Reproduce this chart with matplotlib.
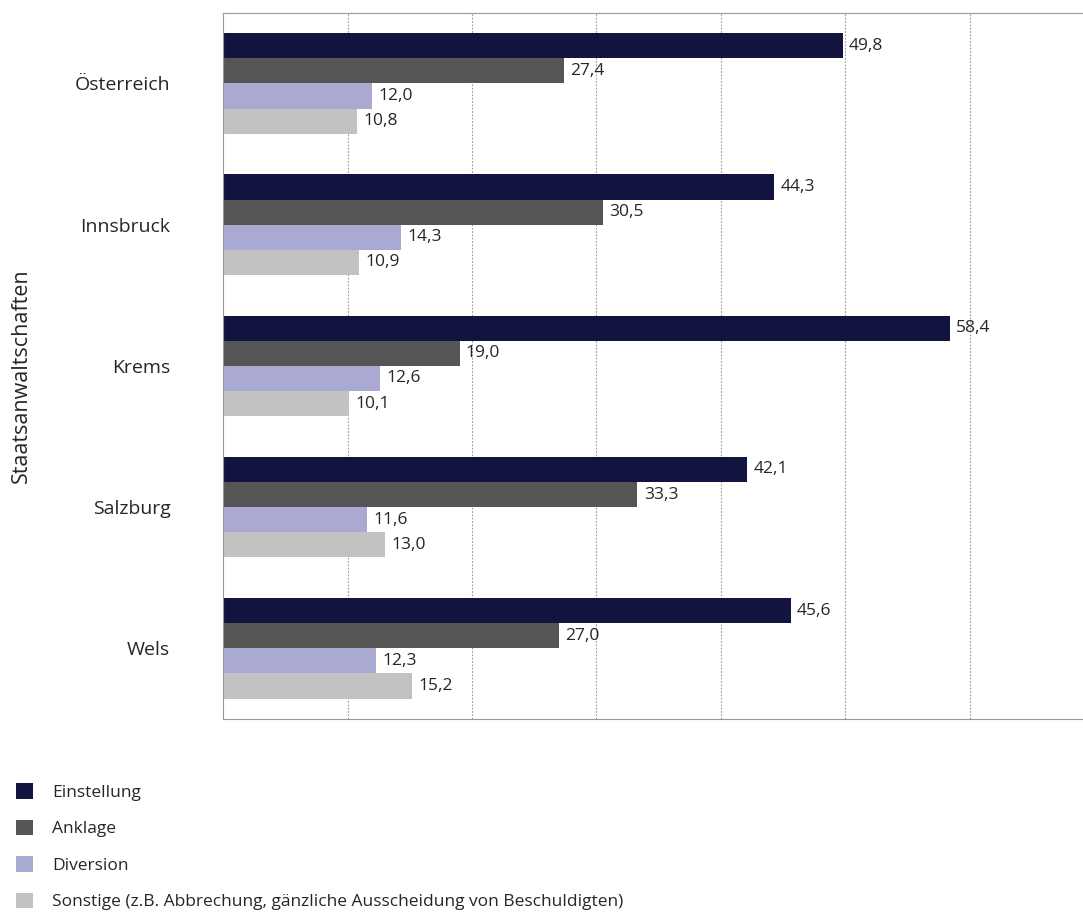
import matplotlib.pyplot as plt
import numpy as np

plt.rcParams['font.family'] = ['Open Sans', 'DejaVu Sans']

categories = ["Österreich", "Innsbruck", "Krems", "Salzburg", "Wels"]
series = ["Einstellung", "Anklage", "Diversion",
          "Sonstige (z.B. Abbrechung, gänzliche Ausscheidung von Beschuldigten)"]
einstellung = [49.8, 44.3, 58.4, 42.1, 45.6]
anklage = [27.4, 30.5, 19.0, 33.3, 27.0]
diversion = [12.0, 14.3, 12.6, 11.6, 12.3]
sonstige = [10.8, 10.9, 10.1, 13.0, 15.2]
colors = ["#12143f", "#555555", "#a9a9d2", "#c2c2c2"]
txt = "#262626"

fig = plt.figure(figsize=(10.83, 9.17), dpi=100)
ax = fig.add_axes((0.206, 0.216, 0.794, 0.770))

y = np.arange(len(categories))
h = 0.178
values = [einstellung, anklage, diversion, sonstige]
for i, (vals, col, name) in enumerate(zip(values, colors, series)):
    pos = y - 1.5 * h + i * h
    ax.barh(pos, vals, height=h, color=col, label=name, zorder=2)
    for p, v in zip(pos, vals):
        ax.text(v + 0.5, p, f"{v:.1f}".replace(".", ","), va="center",
                ha="left", fontsize=12.5, color=txt)

ax.set_ylim(len(categories) - 0.5, -0.5)
ax.set_xlim(0, 69.1)
ax.set_yticks(y)
ax.set_yticklabels(categories, fontsize=14, color=txt)
ax.tick_params(axis="y", length=0, pad=38)
ax.set_xticks(np.arange(10, 70, 10))
ax.tick_params(axis="x", length=0, labelbottom=False)
ax.grid(axis="x", linestyle=(0, (1.5, 1.5)), color="#999999", linewidth=0.8, zorder=0)
for s in ["top", "bottom", "left"]:
    ax.spines[s].set_color("#999999")
ax.spines["right"].set_visible(False)
ax.set_ylabel("Staatsanwaltschaften", fontsize=15.5, color=txt)
ax.yaxis.set_label_coords(-0.222, 0.486)

leg = fig.legend(loc="upper left", bbox_to_anchor=(0.0, 0.163), frameon=False,
                 fontsize=12.5, handlelength=1.0, handleheight=1.0,
                 labelspacing=1.08, handletextpad=1.1)
for t in leg.get_texts():
    t.set_color(txt)

fig.savefig("out.png", dpi=100)
